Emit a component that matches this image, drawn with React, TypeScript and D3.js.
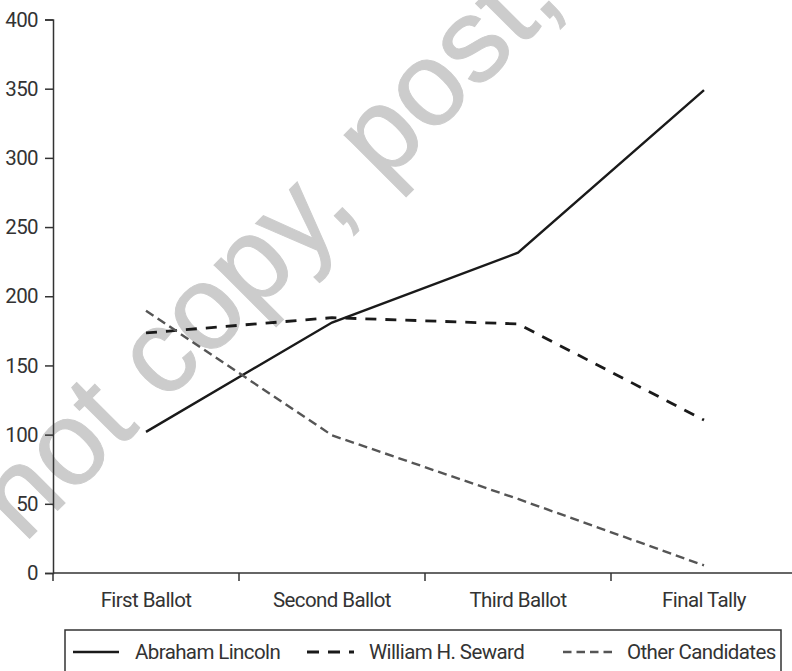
import React, { useEffect, useRef } from 'react';
import * as d3 from 'd3';

const ballots = ['First Ballot', 'Second Ballot', 'Third Ballot', 'Final Tally'];
const lincoln = [102, 181, 231.5, 349];
const seward = [173.5, 184.5, 180, 110.5];
const others = [189.5, 99.5, 53.5, 5.5];
const yTicks = [0, 50, 100, 150, 200, 250, 300, 350, 400];

const seriesNames = ['Abraham Lincoln', 'William H. Seward', 'Other Candidates'];

const FONT = 'Roboto, "Liberation Sans", sans-serif';

const App = () => {
  const ref = useRef<HTMLDivElement>(null);

  useEffect(() => {
    d3.select(ref.current).select('svg').remove();

    const width = 792;
    const height = 671;

    const svg = d3.select(ref.current)
      .append('svg')
      .attr('width', width)
      .attr('height', height)
      .style('position', 'absolute')
      .style('left', '0px')
      .style('top', '0px')
      .style('background', '#fff');

    // watermark sits behind everything
    const wm = svg.append('g')
      .attr('transform', 'translate(383,185) rotate(-45)')
      .style('font-family', '"Liberation Sans", Arial, sans-serif')
      .style('font-size', '119px')
      .attr('fill', '#cccccc')
      .attr('stroke', '#cccccc')
      .attr('stroke-width', 1);
    wm.append('text').attr('x', -34).attr('text-anchor', 'end').text('Do not copy,');
    wm.append('text').attr('x', 0).text('post, or distribute');

    const x = d3.scaleBand()
      .domain(ballots)
      .range([53, 797]);

    const y = d3.scaleLinear()
      .domain([0, 400])
      .range([573, 19.5]);

    const label = (sel: any) => sel
      .attr('fill', '#333')
      .style('font-family', FONT)
      .style('font-size', '20.5px')
      .style('letter-spacing', '-0.6px');

    // y axis
    const yAxis = svg.append('g')
      .attr('transform', 'translate(53,0)')
      .call(d3.axisLeft(y).tickValues(yTicks).tickSize(8).tickPadding(7));
    yAxis.select('.domain').attr('stroke', '#333').attr('stroke-width', 1.5);
    yAxis.selectAll('.tick line').attr('stroke', '#333').attr('stroke-width', 1.5);
    yAxis.selectAll('.tick text').call(label);

    // x axis: line with ticks at band boundaries
    svg.append('line')
      .attr('x1', 53).attr('x2', 797)
      .attr('y1', y(0)).attr('y2', y(0))
      .attr('stroke', '#333').attr('stroke-width', 1.5);

    svg.selectAll('.xtick')
      .data(ballots)
      .enter()
      .append('line')
      .attr('x1', d => x(d)!).attr('x2', d => x(d)!)
      .attr('y1', y(0)).attr('y2', y(0) + 8)
      .attr('stroke', '#333').attr('stroke-width', 1.5);

    svg.selectAll('.xlabel')
      .data(ballots)
      .enter()
      .append('text')
      .attr('x', d => x(d)! + x.bandwidth() / 2)
      .attr('y', 607)
      .attr('text-anchor', 'middle')
      .call(label)
      .text(d => d);

    const line = d3.line<number>()
      .x((_, i) => x(ballots[i])! + x.bandwidth() / 2)
      .y(d => y(d));

    const styles = [
      { data: lincoln, color: '#1a1a1a', w: 2.4, dash: null },
      { data: seward, color: '#1a1a1a', w: 2.8, dash: '11,9' },
      { data: others, color: '#555', w: 2.4, dash: '9,5' },
    ];

    styles.forEach(s => {
      svg.append('path')
        .datum(s.data)
        .attr('d', line)
        .attr('fill', 'none')
        .attr('stroke', s.color)
        .attr('stroke-width', s.w)
        .attr('stroke-dasharray', s.dash);
    });

    // legend
    svg.append('rect')
      .attr('x', 65)
      .attr('y', 630)
      .attr('width', 716)
      .attr('height', 60)
      .attr('fill', 'none')
      .attr('stroke', '#333')
      .attr('stroke-width', 1.5);

    const legendPos = [
      { x1: 73, x2: 119, tx: 135, dash: null },
      { x1: 307, x2: 354, tx: 369, dash: '12,9' },
      { x1: 563, x2: 612, tx: 627, dash: '8.5,5' },
    ];

    seriesNames.forEach((name, i) => {
      const p = legendPos[i];
      svg.append('line')
        .attr('x1', p.x1).attr('x2', p.x2)
        .attr('y1', 652).attr('y2', 652)
        .attr('stroke', styles[i].color)
        .attr('stroke-width', styles[i].w)
        .attr('stroke-dasharray', p.dash);
      svg.append('text')
        .attr('x', p.tx)
        .attr('y', 659)
        .call(label)
        .text(name);
    });
  }, []);

  return <div ref={ref}></div>;
};

export default App;
